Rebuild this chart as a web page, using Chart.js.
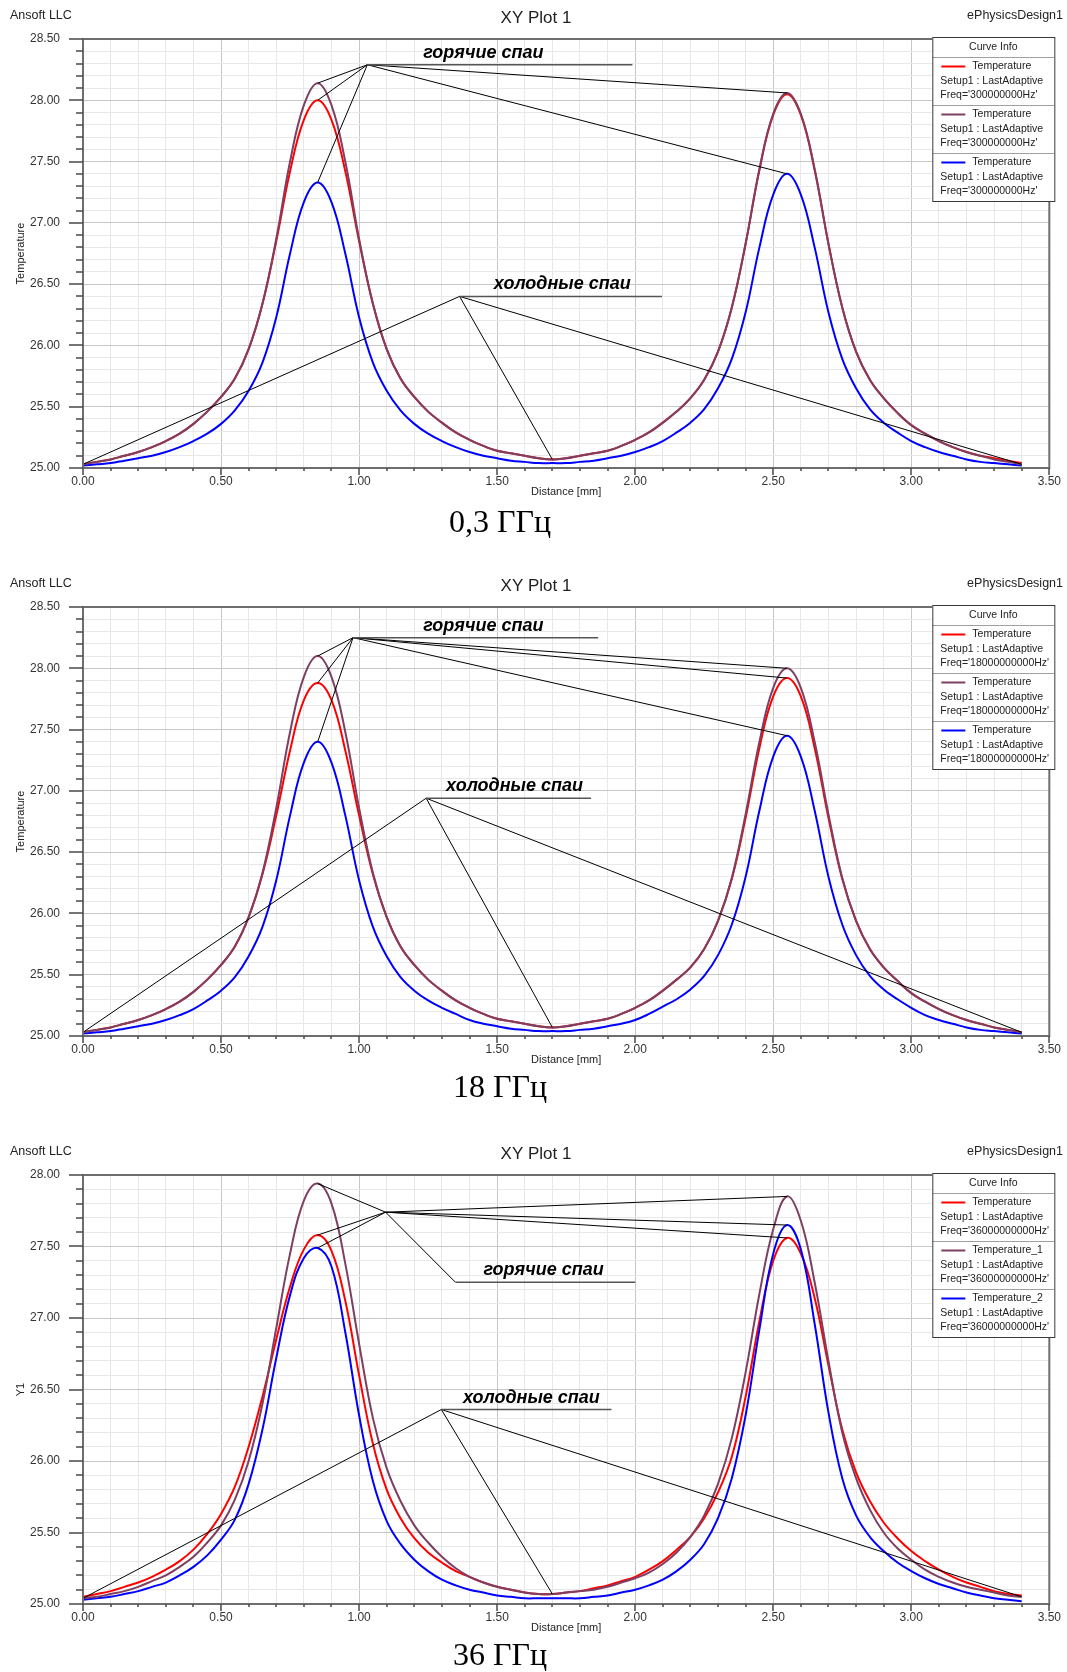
<!DOCTYPE html>
<html>
<head>
<meta charset="utf-8">
<title>XY Plot 1</title>
<script src="https://cdn.jsdelivr.net/npm/chart.js@4.4.1/dist/chart.umd.min.js"></script>
<style>
  body { margin: 0; background: #fff; }
  canvas { display: block; }
</style>
</head>
<body>
<canvas id="plot1" width="1067" height="568"></canvas>
<canvas id="plot2" width="1067" height="568"></canvas>
<canvas id="plot3" width="1067" height="536"></canvas>
<script>
// Distance [mm], shared by all curves
const distance = [
  0.00, 0.05, 0.10, 0.15, 0.20, 0.25, 0.30, 0.35, 0.40, 0.45,
  0.50, 0.55, 0.60, 0.65, 0.70, 0.75, 0.80, 0.85, 0.90, 0.95,
  1.00, 1.05, 1.10, 1.15, 1.20, 1.25, 1.30, 1.35, 1.40, 1.45,
  1.50, 1.55, 1.60, 1.65, 1.70, 1.75, 1.80, 1.85, 1.90, 1.95,
  2.00, 2.05, 2.10, 2.15, 2.20, 2.25, 2.30, 2.35, 2.40, 2.45,
  2.50, 2.55, 2.60, 2.65, 2.70, 2.75, 2.80, 2.85, 2.90, 2.95,
  3.00, 3.05, 3.10, 3.15, 3.20, 3.25, 3.30, 3.35, 3.40];

// 0,3 GHz
const temp03Red = [
  25.03, 25.05, 25.07, 25.10, 25.13, 25.17, 25.22, 25.28, 25.36, 25.46,
  25.58, 25.73, 25.97, 26.34, 26.85, 27.42, 27.84, 28.00, 27.84, 27.42,
  26.85, 26.34, 25.97, 25.73, 25.58, 25.46, 25.37, 25.29, 25.23, 25.18,
  25.14, 25.12, 25.10, 25.08, 25.07, 25.08, 25.10, 25.12, 25.14, 25.18,
  25.23, 25.29, 25.37, 25.46, 25.57, 25.72, 25.95, 26.31, 26.83, 27.43,
  27.88, 28.05, 27.88, 27.43, 26.83, 26.31, 25.95, 25.72, 25.57, 25.45,
  25.35, 25.28, 25.22, 25.17, 25.13, 25.10, 25.08, 25.06, 25.04];
const temp03Purple = [
  25.03, 25.05, 25.07, 25.10, 25.13, 25.17, 25.22, 25.28, 25.36, 25.46,
  25.58, 25.73, 25.97, 26.34, 26.87, 27.50, 27.96, 28.14, 27.96, 27.50,
  26.87, 26.34, 25.97, 25.73, 25.58, 25.46, 25.37, 25.29, 25.23, 25.18,
  25.14, 25.12, 25.10, 25.08, 25.07, 25.08, 25.10, 25.12, 25.14, 25.18,
  25.23, 25.29, 25.37, 25.46, 25.57, 25.72, 25.95, 26.31, 26.83, 27.44,
  27.89, 28.06, 27.89, 27.44, 26.83, 26.31, 25.95, 25.72, 25.57, 25.45,
  25.35, 25.28, 25.22, 25.17, 25.13, 25.10, 25.07, 25.05, 25.03];
const temp03Blue = [
  25.02, 25.03, 25.04, 25.06, 25.08, 25.10, 25.13, 25.17, 25.22, 25.28,
  25.36, 25.47, 25.63, 25.86, 26.23, 26.75, 27.17, 27.33, 27.17, 26.75,
  26.23, 25.86, 25.63, 25.47, 25.36, 25.28, 25.22, 25.17, 25.13, 25.10,
  25.08, 25.06, 25.05, 25.04, 25.04, 25.04, 25.05, 25.06, 25.08, 25.10,
  25.13, 25.17, 25.22, 25.29, 25.37, 25.48, 25.65, 25.89, 26.27, 26.80,
  27.23, 27.40, 27.23, 26.80, 26.27, 25.89, 25.65, 25.48, 25.37, 25.29,
  25.22, 25.17, 25.13, 25.10, 25.07, 25.05, 25.04, 25.03, 25.02];

// 18 GHz
const temp18Red = [
  25.03, 25.05, 25.07, 25.10, 25.13, 25.17, 25.22, 25.28, 25.36, 25.46,
  25.58, 25.73, 25.97, 26.32, 26.80, 27.33, 27.74, 27.88, 27.74, 27.33,
  26.80, 26.32, 25.97, 25.73, 25.58, 25.46, 25.37, 25.29, 25.23, 25.18,
  25.14, 25.12, 25.10, 25.08, 25.07, 25.08, 25.10, 25.12, 25.14, 25.18,
  25.23, 25.29, 25.37, 25.46, 25.56, 25.71, 25.94, 26.28, 26.78, 27.35,
  27.77, 27.92, 27.77, 27.35, 26.78, 26.28, 25.94, 25.71, 25.56, 25.45,
  25.35, 25.28, 25.22, 25.17, 25.13, 25.10, 25.07, 25.05, 25.03];
const temp18Purple = [
  25.03, 25.05, 25.07, 25.10, 25.13, 25.17, 25.22, 25.28, 25.36, 25.46,
  25.58, 25.73, 25.97, 26.33, 26.86, 27.48, 27.93, 28.10, 27.93, 27.48,
  26.86, 26.33, 25.97, 25.73, 25.58, 25.46, 25.37, 25.29, 25.23, 25.18,
  25.14, 25.12, 25.10, 25.08, 25.07, 25.08, 25.10, 25.12, 25.14, 25.18,
  25.23, 25.29, 25.37, 25.46, 25.56, 25.71, 25.94, 26.29, 26.81, 27.40,
  27.84, 28.00, 27.84, 27.40, 26.81, 26.29, 25.94, 25.71, 25.56, 25.45,
  25.35, 25.28, 25.22, 25.17, 25.13, 25.10, 25.07, 25.05, 25.03];
const temp18Blue = [
  25.02, 25.03, 25.04, 25.06, 25.08, 25.10, 25.13, 25.17, 25.22, 25.29,
  25.37, 25.48, 25.65, 25.89, 26.27, 26.80, 27.23, 27.40, 27.23, 26.80,
  26.27, 25.89, 25.65, 25.48, 25.37, 25.29, 25.23, 25.18, 25.13, 25.10,
  25.08, 25.06, 25.05, 25.04, 25.04, 25.04, 25.05, 25.06, 25.08, 25.10,
  25.13, 25.18, 25.24, 25.30, 25.38, 25.49, 25.66, 25.91, 26.30, 26.84,
  27.28, 27.45, 27.28, 26.84, 26.30, 25.91, 25.66, 25.49, 25.38, 25.30,
  25.23, 25.17, 25.13, 25.10, 25.07, 25.05, 25.04, 25.03, 25.02];

// 36 GHz
const temp36Red = [
  25.05, 25.07, 25.09, 25.12, 25.15, 25.19, 25.24, 25.30, 25.38, 25.49,
  25.63, 25.82, 26.10, 26.45, 26.85, 27.22, 27.48, 27.58, 27.47, 27.12,
  26.60, 26.12, 25.80, 25.60, 25.46, 25.36, 25.29, 25.23, 25.19, 25.15,
  25.12, 25.10, 25.08, 25.07, 25.07, 25.08, 25.09, 25.11, 25.13, 25.16,
  25.19, 25.24, 25.30, 25.38, 25.47, 25.60, 25.78, 26.03, 26.45, 26.98,
  27.40, 27.56, 27.45, 27.14, 26.67, 26.22, 25.92, 25.72, 25.57, 25.46,
  25.37, 25.30, 25.24, 25.19, 25.15, 25.12, 25.09, 25.07, 25.06];
const temp36Purple = [
  25.04, 25.05, 25.07, 25.09, 25.12, 25.16, 25.20, 25.26, 25.33, 25.43,
  25.55, 25.73, 26.00, 26.40, 26.93, 27.45, 27.82, 27.94, 27.80, 27.38,
  26.82, 26.30, 25.95, 25.72, 25.55, 25.43, 25.33, 25.25, 25.19, 25.15,
  25.12, 25.10, 25.08, 25.07, 25.07, 25.08, 25.09, 25.10, 25.12, 25.15,
  25.18, 25.22, 25.28, 25.36, 25.47, 25.62, 25.84, 26.16, 26.62, 27.17,
  27.62, 27.85, 27.68, 27.25, 26.70, 26.20, 25.88, 25.66, 25.50, 25.39,
  25.31, 25.24, 25.19, 25.15, 25.12, 25.10, 25.08, 25.06, 25.05];
const temp36Blue = [
  25.03, 25.04, 25.05, 25.07, 25.09, 25.12, 25.15, 25.20, 25.26, 25.34,
  25.45, 25.59, 25.84, 26.22, 26.72, 27.16, 27.42, 27.49, 27.36, 26.90,
  26.32, 25.86, 25.58, 25.42, 25.31, 25.23, 25.17, 25.13, 25.10, 25.08,
  25.06, 25.05, 25.04, 25.04, 25.04, 25.04, 25.04, 25.05, 25.06, 25.08,
  25.10, 25.13, 25.17, 25.23, 25.31, 25.42, 25.60, 25.88, 26.32, 26.92,
  27.45, 27.65, 27.48, 26.96, 26.34, 25.88, 25.62, 25.47, 25.37, 25.29,
  25.23, 25.18, 25.14, 25.11, 25.08, 25.06, 25.04, 25.03, 25.02];

// axis ranges and tick step
const xRange = [0, 3.5];
const yRange1 = [25, 28.5];
const yRange3 = [25, 28];
const tickStep = 0.1;

const captions = ['0,3 ГГц', '18 ГГц', '36 ГГц'];
const freqLabels = ["Freq='300000000Hz'", "Freq='18000000000Hz'", "Freq='36000000000Hz'"];
const namesPlain = ['Temperature', 'Temperature', 'Temperature'];
const namesNumbered = ['Temperature', 'Temperature_1', 'Temperature_2'];
const curveColors = ['#ff0000', '#7d3f62', '#0000ff'];

// leader lines of the notes, in data units [distance, temperature]
const hotHub1 = [1.03, 28.29];
const hotTips1 = [[0.85, 28.14], [0.85, 28.0], [0.85, 27.33], [2.55, 28.06], [2.55, 27.4]];
const coldHub1 = [1.364, 26.40];
const coldTips1 = [[0, 25.03], [1.7, 25.07], [3.4, 25.03]];

const hotHub2 = [0.978, 28.25];
const hotTips2 = [[0.85, 28.10], [0.85, 27.88], [0.85, 27.40], [2.55, 28.0], [2.55, 27.92], [2.55, 27.45]];
const coldHub2 = [1.243, 26.94];
const coldTips2 = [[0, 25.03], [1.7, 25.07], [3.4, 25.03]];

const hotHub3 = [1.096, 27.74];
const hotTips3 = [[0.85, 27.94], [0.85, 27.58], [0.85, 27.49], [2.55, 27.85], [2.55, 27.65], [2.55, 27.56]];
const hotElbow3 = [1.349, 27.25];
const coldHub3 = [1.298, 26.36];
const coldTips3 = [[0, 25.04], [1.7, 25.07], [3.4, 25.05]];

// underline end and label centre (distance)
const shelfEnds = [[1.99, 2.097], [1.866, 1.84], [2.0, 1.914]];
const labelCentres = [[1.45, 1.736], [1.45, 1.563], [1.668, 1.624]];

const SANS = "Arial, 'Liberation Sans', sans-serif";
const SERIF = "'Times New Roman', 'Liberation Serif', serif";
const isMajor = v => Math.abs(v * 2 - Math.round(v * 2)) < 1e-6;

function drawNote(chart, text, hub, tips, elbow, shelfEnd, labelX) {
    const {ctx, scales: {x, y}} = chart;
    const px = v => x.getPixelForValue(v);
    const py = v => y.getPixelForValue(v);

    ctx.save();
    ctx.strokeStyle = '#000';
    ctx.lineWidth = 1;
    ctx.beginPath();
    tips.forEach(t => {
        ctx.moveTo(px(hub[0]), py(hub[1]));
        ctx.lineTo(px(t[0]), py(t[1]));
    });
    let start = hub;
    if (elbow) {
        ctx.moveTo(px(hub[0]), py(hub[1]));
        ctx.lineTo(px(elbow[0]), py(elbow[1]));
        start = elbow;
    }
    ctx.stroke();

    const sy = py(start[1]);
    ctx.strokeStyle = '#555';
    ctx.lineWidth = 1.5;
    ctx.beginPath();
    ctx.moveTo(px(start[0]), sy);
    ctx.lineTo(px(shelfEnd), sy);
    ctx.stroke();

    ctx.fillStyle = '#000';
    ctx.font = `italic bold 18px ${SANS}`;
    ctx.textAlign = 'center';
    ctx.textBaseline = 'alphabetic';
    ctx.fillText(text, px(labelX), sy - 7);
    ctx.restore();
}

function drawCurveInfo(ctx, area, names, freq) {
    const left = area.right - 117, top = area.top - 2, w = 122;
    const headH = 20, rowH = 48;
    ctx.save();
    ctx.fillStyle = '#fff';
    ctx.fillRect(left, top, w, headH + rowH * 3);
    ctx.font = `10.5px ${SANS}`;
    ctx.fillStyle = '#222';
    ctx.textBaseline = 'middle';
    ctx.textAlign = 'center';
    ctx.fillText('Curve Info', left + w / 2, top + 10);
    ctx.textAlign = 'left';
    names.forEach((name, i) => {
        const y0 = top + headH + rowH * i;
        ctx.strokeStyle = '#a0a0a0';
        ctx.lineWidth = 1;
        ctx.beginPath();
        ctx.moveTo(left, y0 + 0.5);
        ctx.lineTo(left + w, y0 + 0.5);
        ctx.stroke();
        ctx.strokeStyle = curveColors[i];
        ctx.lineWidth = 2;
        ctx.beginPath();
        ctx.moveTo(left + 9, y0 + 9.5);
        ctx.lineTo(left + 33, y0 + 9.5);
        ctx.stroke();
        ctx.fillStyle = '#222';
        ctx.fillText(name, left + 40, y0 + 9.5);
        ctx.fillText('Setup1 : LastAdaptive', left + 8, y0 + 24);
        ctx.fillText(freq, left + 8, y0 + 38.5);
    });
    ctx.strokeStyle = '#3a3a3a';
    ctx.lineWidth = 1;
    ctx.strokeRect(left + 0.5, top + 0.5, w, headH + rowH * 3);
    ctx.restore();
}

function makePlot(canvasId, opt) {
    const canvas = document.getElementById(canvasId);
    const datasets = opt.series.map((vals, i) => ({
        label: opt.names[i],
        data: distance.map((d, k) => ({x: d, y: vals[k]})),
        borderColor: curveColors[i],
        backgroundColor: curveColors[i],
        borderWidth: 2,
        pointRadius: 0,
        tension: 0.4,
        fill: false
    }));
    // purple first, then blue, red on top
    const ordered = [1, 2, 0].map(i => datasets[i]);

    const gridColor = ctx => (ctx.tick && isMajor(ctx.tick.value)) ? '#c6c6c6' : '#e8e8e8';
    const label = v => isMajor(v) ? v.toFixed(2) : '';

    const decorations = {
        id: 'decorations',
        afterDatasetsDraw(chart) {
            opt.notes.forEach(n => drawNote(chart, ...n));
        },
        afterDraw(chart) {
            const {ctx, chartArea: a, scales: {x, y}} = chart;
            ctx.save();
            // axis frame
            ctx.strokeStyle = '#6e6e6e';
            ctx.lineWidth = 2;
            ctx.strokeRect(a.left, a.top, a.right - a.left, a.bottom - a.top);
            // tick marks
            ctx.strokeStyle = '#4a4a4a';
            ctx.lineWidth = 1.5;
            ctx.beginPath();
            y.ticks.forEach(t => {
                const p = Math.round(y.getPixelForValue(t.value));
                const len = isMajor(t.value) ? 14 : 7;
                ctx.moveTo(a.left - len, p);
                ctx.lineTo(a.left, p);
            });
            x.ticks.forEach(t => {
                const p = Math.round(x.getPixelForValue(t.value));
                const len = isMajor(t.value) ? 7 : 3;
                ctx.moveTo(p, a.bottom);
                ctx.lineTo(p, a.bottom + len);
            });
            ctx.stroke();

            // header texts
            ctx.fillStyle = '#222';
            ctx.textBaseline = 'middle';
            ctx.font = `12.5px ${SANS}`;
            ctx.textAlign = 'left';
            ctx.fillText('Ansoft LLC', 10, 16);
            ctx.textAlign = 'right';
            ctx.fillText('ePhysicsDesign1', 1063, 16);
            ctx.font = `17px ${SANS}`;
            ctx.textAlign = 'center';
            ctx.fillText('XY Plot 1', 536, 18);

            // caption under the plot
            ctx.fillStyle = '#000';
            ctx.font = `32px ${SERIF}`;
            ctx.fillText(opt.caption, 500, opt.captionY);
            ctx.restore();

            drawCurveInfo(ctx, a, opt.names, opt.freq);
        }
    };

    return new Chart(canvas, {
        type: 'scatter',
        data: {datasets: ordered},
        options: {
            responsive: false,
            animation: false,
            showLine: true,
            layout: {padding: {left: 0, top: 39, right: 14, bottom: canvas.height - 468 - 31}},
            plugins: {legend: {display: false}, tooltip: {enabled: false}},
            scales: {
                x: {
                    type: 'linear',
                    min: xRange[0],
                    max: xRange[1],
                    afterFit: s => { s.height = 31; },
                    border: {display: false},
                    grid: {color: gridColor, drawTicks: false, lineWidth: 1},
                    ticks: {
                        stepSize: tickStep, autoSkip: false, maxRotation: 0, padding: 6,
                        color: '#333', font: {family: SANS, size: 12}, callback: label
                    },
                    title: {
                        display: true, text: 'Distance [mm]', color: '#222',
                        font: {family: SANS, size: 11}, padding: 0
                    }
                },
                y: {
                    type: 'linear',
                    min: opt.yRange[0],
                    max: opt.yRange[1],
                    afterFit: s => { s.width = 83; },
                    border: {display: false},
                    grid: {color: gridColor, drawTicks: false, lineWidth: 1},
                    ticks: {
                        stepSize: tickStep, autoSkip: false, padding: 23,
                        color: '#333', font: {family: SANS, size: 12}, callback: label
                    },
                    title: {
                        display: true, text: opt.yTitle, color: '#222',
                        font: {family: SANS, size: 11}, padding: {top: 14, bottom: 0}
                    }
                }
            }
        },
        plugins: [decorations]
    });
}

makePlot('plot1', {
    series: [temp03Red, temp03Purple, temp03Blue],
    names: namesPlain,
    freq: freqLabels[0],
    yRange: yRange1,
    yTitle: 'Temperature',
    caption: captions[0],
    captionY: 524,
    notes: [
        ['горячие спаи', hotHub1, hotTips1, null, shelfEnds[0][0], labelCentres[0][0]],
        ['холодные спаи', coldHub1, coldTips1, null, shelfEnds[0][1], labelCentres[0][1]]
    ]
});

makePlot('plot2', {
    series: [temp18Red, temp18Purple, temp18Blue],
    names: namesPlain,
    freq: freqLabels[1],
    yRange: yRange1,
    yTitle: 'Temperature',
    caption: captions[1],
    captionY: 521,
    notes: [
        ['горячие спаи', hotHub2, hotTips2, null, shelfEnds[1][0], labelCentres[1][0]],
        ['холодные спаи', coldHub2, coldTips2, null, shelfEnds[1][1], labelCentres[1][1]]
    ]
});

makePlot('plot3', {
    series: [temp36Red, temp36Purple, temp36Blue],
    names: namesNumbered,
    freq: freqLabels[2],
    yRange: yRange3,
    yTitle: 'Y1',
    caption: captions[2],
    captionY: 521,
    notes: [
        ['горячие спаи', hotHub3, hotTips3, hotElbow3, shelfEnds[2][0], labelCentres[2][0]],
        ['холодные спаи', coldHub3, coldTips3, null, shelfEnds[2][1], labelCentres[2][1]]
    ]
});
</script>
</body>
</html>
